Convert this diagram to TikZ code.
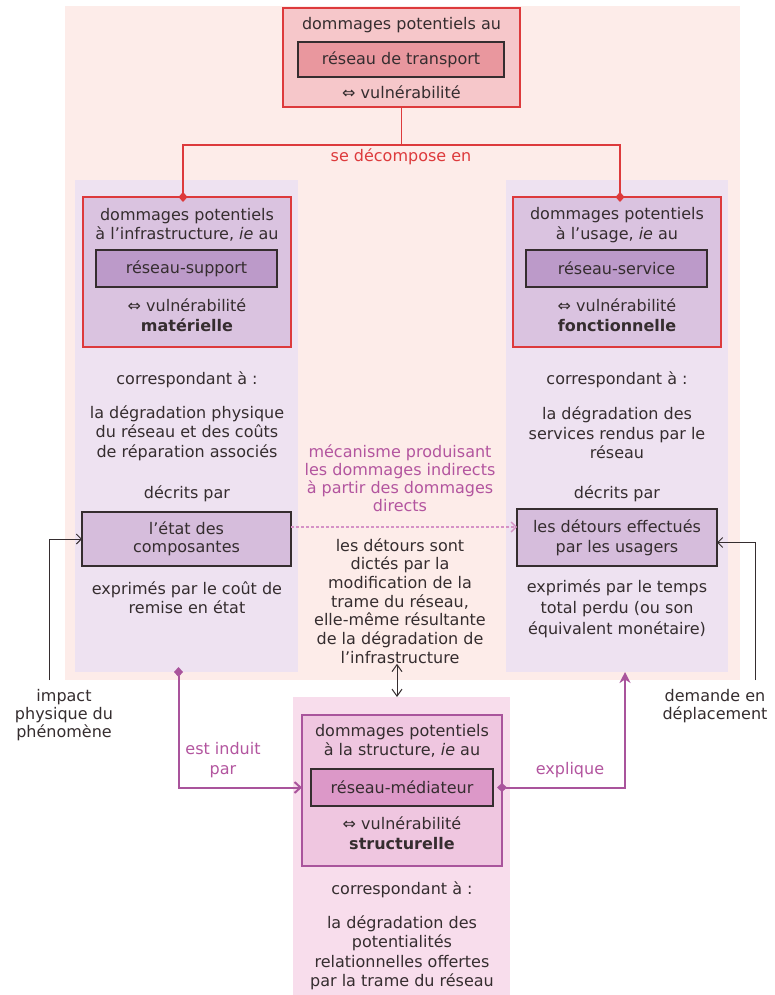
\documentclass[tikz,border=0pt]{standalone}
\usepackage{fontspec}
\setmainfont{DejaVu Sans}
\usetikzlibrary{arrows.meta}
\definecolor{bgpink}{HTML}{FDECE9}
\definecolor{lav}{HTML}{EEE2F1}
\definecolor{bcolc}{HTML}{F8DDEC}
\definecolor{ink}{HTML}{352D2F}
\definecolor{redc}{HTML}{DD3A3C}
\definecolor{topfill}{HTML}{F6C7CA}
\definecolor{topinner}{HTML}{E9979E}
\definecolor{lrfill}{HTML}{DAC3E0}
\definecolor{lrinner}{HTML}{BC9AC9}
\definecolor{boxinner}{HTML}{D6BDDC}
\definecolor{sfill}{HTML}{EFC6E0}
\definecolor{sinner}{HTML}{DC98C8}
\definecolor{mauvec}{HTML}{A9549C}
\definecolor{mauvetxt}{HTML}{B3559F}
\definecolor{dashc}{HTML}{D592C6}
\newcommand{\fs}{\fontsize{16}{19.5}\selectfont}
\begin{document}
\begin{tikzpicture}[x=1pt,y=-1pt,
  area/.style={fill=#1, draw=none, inner sep=0pt, outer sep=0pt, anchor=north west},
  lbl/.style={font=\fs, text=ink, align=center, inner sep=0pt},
  frame/.style={draw=#1, line width=1.2pt, inner sep=0pt, outer sep=0pt, anchor=north west},
  inbox/.style={draw=ink, line width=1.2pt, fill=#1, font=\fs, text=ink, align=center, inner sep=0pt, outer sep=0pt},
  redline/.style={draw=redc, line width=1.6pt},
  mline/.style={draw=mauvec, line width=2pt},
  blk/.style={draw=ink, line width=1pt},
  tip/.style={-{Straight Barb[length=5pt,width=10pt]}}
]
\useasboundingbox (0,0) rectangle (774,995);
\fill[white] (0,0) rectangle (774,995);

% backgrounds
\node[area=bgpink, minimum width=675pt, minimum height=674pt] (bg) at (65,6) {};
\node[area=lav, minimum width=223pt, minimum height=492pt] (lcol) at (75,180) {};
\node[area=lav, minimum width=222pt, minimum height=492pt] (rcol) at (506,180) {};
\node[area=bcolc, minimum width=217pt, minimum height=298pt] (bcol) at (293,697) {};

% top box
\node[frame=redc, fill=topfill, minimum width=237pt, minimum height=99pt] (top) at (283,8) {};
\node[lbl] (t1) at (401.5,25) {dommages potentiels au};
\node[inbox=topinner, minimum width=206pt, minimum height=35pt] (rt) at (401,59.5) {réseau de transport};
\node[lbl] (t2) at (401.5,92) {⇔ vulnérabilité};

% left box
\node[frame=redc, fill=lrfill, minimum width=208pt, minimum height=150pt] (lbox) at (83,197) {};
\node[lbl] (l1) at (187,225) {dommages potentiels\\à l’infrastructure, \textit{ie} au};
\node[inbox=lrinner, minimum width=181pt, minimum height=37pt] (rsup) at (186.5,268.5) {réseau-support};
\node[lbl] (l2) at (187,315) {⇔ vulnérabilité\\\textbf{matérielle}};
\node[lbl] (l3) at (187,380) {correspondant à :};
\node[lbl] (l4) at (187,433) {la dégradation physique\\du réseau et des coûts\\de réparation associés};
\node[lbl] (l5) at (187,494) {décrits par};
\node[inbox=boxinner, minimum width=209pt, minimum height=54pt, font=\fontsize{16}{18}\selectfont] (etat) at (186.5,539) {l’état des\\composantes};
\node[lbl] (l6) at (187,597.5) {exprimés par le coût de\\remise en état};

% right box
\node[frame=redc, fill=lrfill, minimum width=208pt, minimum height=150pt] (rbox) at (513,197) {};
\node[lbl] (r1) at (617,225) {dommages potentiels\\à l’usage, \textit{ie} au};
\node[inbox=lrinner, minimum width=181pt, minimum height=37pt] (rserv) at (616.5,268.5) {réseau-service};
\node[lbl] (r2) at (617,315) {⇔ vulnérabilité\\\textbf{fonctionnelle}};
\node[lbl] (r3) at (617,380) {correspondant à :};
\node[lbl] (r4) at (617,433) {la dégradation des\\services rendus par le\\réseau};
\node[lbl] (r5) at (617,494) {décrits par};
\node[inbox=boxinner, minimum width=200pt, minimum height=57pt, font=\fontsize{16}{20}\selectfont] (detours) at (617,537.5) {les détours effectués\\par les usagers};
\node[lbl, font=\fontsize{16}{21}\selectfont] (r6) at (617,609) {exprimés par le temps\\total perdu (ou son\\équivalent monétaire)};

% middle
\node[lbl, text=mauvetxt, font=\fontsize{16}{18}\selectfont] (meca) at (400,478.5) {mécanisme produisant\\les dommages indirects\\à partir des dommages\\directs};
\node[lbl, font=\fontsize{16}{18.7}\selectfont] (midtxt) at (400,601) {les détours sont\\dictés par la\\modification de la\\trame du réseau,\\elle-même résultante\\de la dégradation de\\l’infrastructure};

% bottom box
\node[frame=mauvec, fill=sfill, minimum width=200pt, minimum height=151pt] (sbox) at (302,715) {};
\node[lbl] (s1) at (402,741) {dommages potentiels\\à la structure, \textit{ie} au};
\node[inbox=sinner, minimum width=182pt, minimum height=37pt] (rmed) at (402,787.5) {réseau-médiateur};
\node[lbl] (s2) at (402,833) {⇔ vulnérabilité\\\textbf{structurelle}};
\node[lbl] (s3) at (402,890) {correspondant à :};
\node[lbl] (s4) at (402,953) {la dégradation des\\potentialités\\relationnelles offertes\\par la trame du réseau};

% side labels
\node[lbl, font=\fontsize{16}{18}\selectfont] (impact) at (64,715) {impact\\physique du\\phénomène};
\node[lbl, font=\fontsize{16}{18}\selectfont] (demande) at (715,706) {demande en\\déplacement};
\node[lbl, text=mauvetxt] (induit) at (223,760) {est induit\\par};
\node[lbl, text=mauvetxt] (expl) at (570,770) {explique};
\node[lbl, text=redc] (decomp) at (401,157) {se décompose en};

% red connectors
\coordinate (j) at (401.5,145);
\draw[redline] (top.south) -- (j);
\draw[redline, -{Diamond[length=10pt,width=9pt]}, shorten >=-5pt] (j) -| ([xshift=-4pt]lbox.north);
\draw[redline, -{Diamond[length=10pt,width=9pt]}, shorten >=-5pt] (j) -| ([xshift=3pt]rbox.north);

% black connectors
\coordinate (impS) at (49,680);
\coordinate (demS) at (755,680);
\draw[blk, tip] (impS) |- (etat.west);
\draw[blk, tip] (demS) |- ([yshift=-5pt]detours.east);
\draw[blk, {Straight Barb[length=7pt,width=10pt]}-{Straight Barb[length=7pt,width=10pt]}] ([xshift=-3pt]midtxt.south) -- ([xshift=-3pt]midtxt.south |- bcol.north);

% dashed mechanism arrow
\draw[draw=dashc, line width=1.4pt, dash pattern=on 3pt off 2pt, -{Straight Barb[length=5pt,width=10pt]}] ([yshift=12pt]etat.east) -- ([yshift=12pt]etat.east -| detours.west);

% mauve connectors
\draw[mline, {Diamond[length=10pt,width=9pt]}-{Straight Barb[length=6pt,width=11pt]}, shorten <=-5pt] ([xshift=-8pt]lcol.south) |- ([yshift=3pt]sbox.west);
\draw[mline, {Diamond[length=10pt,width=9pt]}-{Stealth[length=11pt,width=11pt]}, shorten <=-5pt] ([yshift=3pt]sbox.east) -| ([xshift=8pt]rcol.south);
\end{tikzpicture}
\end{document}
